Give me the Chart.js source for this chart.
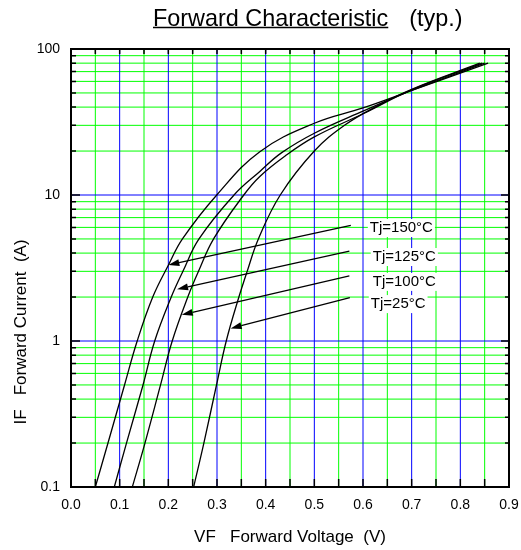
<!DOCTYPE html>
<html><head><meta charset="utf-8">
<script src="https://cdn.jsdelivr.net/npm/chart.js@4.4.0/dist/chart.umd.min.js"></script>
<style>html,body{margin:0;padding:0;background:#fff;}#wrap{width:521px;height:550px;}</style>
</head><body><div id="wrap"><canvas id="c" width="521" height="550"></canvas></div>
<script>
// ---- text ----
const chartTitle = "Forward Characteristic";
const chartTitleNote = "(typ.)";
const xAxisTitle = "VF   Forward Voltage  (V)";
const yAxisTitle = "IF   Forward Current  (A)";
const seriesNames = ["Tj=150°C", "Tj=125°C", "Tj=100°C", "Tj=25°C"];

// ---- series (VF in V, IF in A) ----
const vf150 = [0.050, 0.076, 0.110, 0.136, 0.168, 0.200, 0.229, 0.2995, 0.388, 0.500, 0.600, 0.700, 0.857];
const if150 = [0.1, 0.2, 0.5, 1, 2, 3.3, 5, 10, 19.8, 31, 39.5, 52, 80];
const vf125 = [0.089, 0.114, 0.148, 0.172, 0.206, 0.230, 0.263, 0.335, 0.388, 0.433, 0.500, 0.600, 0.700, 0.850];
const if125 = [0.1, 0.2, 0.5, 1, 2, 3, 5, 10, 14.5, 19.5, 26.5, 37.5, 52, 80];
const vf100 = [0.126, 0.152, 0.184, 0.208, 0.240, 0.262, 0.293, 0.355, 0.388, 0.440, 0.500, 0.600, 0.700, 0.845];
const if100 = [0.1, 0.2, 0.5, 1, 2, 3, 5, 10, 13.4, 18.5, 25, 36, 52.5, 80];
const vf25  = [0.252, 0.273, 0.299, 0.319, 0.345, 0.362, 0.385, 0.430, 0.500, 0.562, 0.625, 0.700, 0.840];
const if25  = [0.1, 0.2, 0.5, 1, 2, 3, 5, 10, 20, 30, 40, 53, 80];

// ---- ticks ----
const xTickValues = [0,0.05,0.1,0.15,0.2,0.25,0.3,0.35,0.4,0.45,0.5,0.55,0.6,0.65,0.7,0.75,0.8,0.85,0.9];
const xTickLabels = ["0.0","","0.1","","0.2","","0.3","","0.4","","0.5","","0.6","","0.7","","0.8","","0.9"];
const yTickValues = [0.1,0.2,0.3,0.4,0.5,0.6,0.7,0.8,0.9,1,2,3,4,5,6,7,8,9,10,20,30,40,50,60,70,80,90,100];
const yMajorValues = [0.1, 1, 10, 100];
const yMajorLabels = ["0.1", "1", "10", "100"];

// ---- annotation arrows and labels (data coordinates) ----
const arrowFromV = [0.575, 0.572, 0.572, 0.573];
const arrowFromI = [6.2, 4.13, 2.79, 1.98];
const arrowToV   = [0.200, 0.218, 0.2275, 0.328];
const arrowToI   = [3.32, 2.26, 1.51, 1.22];
const labelV     = [0.614, 0.620, 0.620, 0.616];
const labelI     = [5.94, 3.76, 2.54, 1.79];

const FONT = "'Liberation Sans', Arial, Helvetica, sans-serif";
const GREEN = '#00ff00', BLUE = '#0000ff';

function pts(v, i) { return v.map((x, k) => ({x: x, y: i[k]})); }
function isMajorX(v) { return Math.abs(Math.round(v * 10) - v * 10) < 1e-6; }
function isMajorY(v) { return yMajorValues.some(m => Math.abs(m - v) < 1e-9); }

const seriesData = [pts(vf150, if150), pts(vf125, if125), pts(vf100, if100), pts(vf25, if25)];

const extras = {
  id: 'extras',
  beforeDatasetsDraw(chart) {
    const ctx = chart.ctx, a = chart.chartArea, xs = chart.scales.x, ys = chart.scales.y;
    ctx.save();
    ctx.lineWidth = 1;
    [false, true].forEach(major => {
      xTickValues.forEach(v => {
        if (isMajorX(v) !== major) return;
        const px = xs.getPixelForValue(v);
        ctx.strokeStyle = major ? BLUE : GREEN;
        ctx.beginPath(); ctx.moveTo(px, a.top); ctx.lineTo(px, a.bottom); ctx.stroke();
      });
      yTickValues.forEach(v => {
        if (isMajorY(v) !== major) return;
        const py = ys.getPixelForValue(v);
        ctx.strokeStyle = major ? BLUE : GREEN;
        ctx.beginPath(); ctx.moveTo(a.left, py); ctx.lineTo(a.right, py); ctx.stroke();
      });
    });
    ctx.restore();
  },
  afterDatasetsDraw(chart) {
    const ctx = chart.ctx, xs = chart.scales.x, ys = chart.scales.y;
    ctx.save();
    for (let k = 0; k < arrowFromV.length; k++) {
      const x1 = xs.getPixelForValue(arrowFromV[k]), y1 = ys.getPixelForValue(arrowFromI[k]);
      const x2 = xs.getPixelForValue(arrowToV[k]), y2 = ys.getPixelForValue(arrowToI[k]);
      const ang = Math.atan2(y2 - y1, x2 - x1);
      const L = 11, W = 3.5;
      const bx = x2 - L * Math.cos(ang), by = y2 - L * Math.sin(ang);
      ctx.strokeStyle = '#000'; ctx.lineWidth = 1.3;
      ctx.beginPath(); ctx.moveTo(x1, y1); ctx.lineTo(bx, by); ctx.stroke();
      ctx.fillStyle = '#000';
      ctx.beginPath();
      ctx.moveTo(x2, y2);
      ctx.lineTo(bx + W * Math.sin(ang), by - W * Math.cos(ang));
      ctx.lineTo(bx - W * Math.sin(ang), by + W * Math.cos(ang));
      ctx.closePath(); ctx.fill();
    }
    ctx.font = '15px ' + FONT;
    ctx.textBaseline = 'middle'; ctx.textAlign = 'left';
    for (let k = 0; k < seriesNames.length; k++) {
      const x = xs.getPixelForValue(labelV[k]), y = ys.getPixelForValue(labelI[k]);
      const w = ctx.measureText(seriesNames[k]).width;
      ctx.fillStyle = '#fff';
      ctx.fillRect(x - 2, y - 9, w + 4, 18);
      ctx.fillStyle = '#000';
      ctx.fillText(seriesNames[k], x, y);
    }
    ctx.restore();
  },
  afterDraw(chart) {
    const ctx = chart.ctx, a = chart.chartArea, xs = chart.scales.x, ys = chart.scales.y;
    ctx.save();
    ctx.strokeStyle = '#000';
    ctx.lineWidth = 1.5;
    ctx.beginPath();
    xTickValues.forEach(v => {
      const px = xs.getPixelForValue(v);
      ctx.moveTo(px, a.bottom); ctx.lineTo(px, a.bottom - 8);
      ctx.moveTo(px, a.top); ctx.lineTo(px, a.top + 5);
    });
    yTickValues.forEach(v => {
      const py = ys.getPixelForValue(v);
      const maj = isMajorY(v);
      ctx.moveTo(a.left, py); ctx.lineTo(a.left + (maj ? 9 : 5), py);
      ctx.moveTo(a.right, py); ctx.lineTo(a.right - (maj ? 8 : 4), py);
    });
    ctx.stroke();
    ctx.lineWidth = 2;
    ctx.strokeRect(Math.round(a.left), Math.round(a.top), Math.round(a.right - a.left), Math.round(a.bottom - a.top));
    ctx.fillStyle = '#000';
    ctx.font = '23.4px ' + FONT;
    ctx.textBaseline = 'alphabetic'; ctx.textAlign = 'left';
    const tx = 153, ty = 25.5;
    ctx.fillText(chartTitle, tx, ty);
    const tw = ctx.measureText(chartTitle).width;
    ctx.lineWidth = 1.5;
    ctx.beginPath(); ctx.moveTo(tx, ty + 2); ctx.lineTo(tx + tw, ty + 2); ctx.stroke();
    ctx.fillText(chartTitleNote, tx + tw + 21, ty);
    ctx.font = '17px ' + FONT;
    ctx.textAlign = 'center';
    ctx.fillText(xAxisTitle, (a.left + a.right) / 2, 541.5);
    ctx.save();
    ctx.translate(21, 332);
    ctx.rotate(-Math.PI / 2);
    ctx.textBaseline = 'middle';
    ctx.fillText(yAxisTitle, 0, 0);
    ctx.restore();
    ctx.restore();
  }
};

new Chart(document.getElementById('c'), {
  type: 'scatter',
  data: {
    datasets: seriesNames.map((n, k) => ({
      label: n,
      data: seriesData[k],
      showLine: true,
      borderColor: '#000',
      borderWidth: 1.3,
      pointRadius: 0,
      pointHoverRadius: 0,
      tension: 0.4,
      fill: false
    }))
  },
  options: {
    responsive: false,
    animation: false,
    devicePixelRatio: 1,
    layout: { padding: { top: 49, right: 12, left: 0, bottom: 0 } },
    plugins: { legend: { display: false }, tooltip: { enabled: false }, title: { display: false } },
    scales: {
      x: {
        type: 'linear', min: 0, max: 0.9,
        afterBuildTicks: s => { s.ticks = xTickValues.map(v => ({value: v})); },
        afterFit: s => { s.height = 63; s.paddingLeft = 0; s.paddingRight = 0; },
        ticks: {
          autoSkip: false, maxRotation: 0, padding: 10,
          color: '#000', font: { family: FONT, size: 14 },
          callback: (v, idx) => xTickLabels[idx]
        },
        grid: { display: false, drawTicks: false },
        border: { display: false }
      },
      y: {
        type: 'logarithmic', min: 0.1, max: 100,
        afterBuildTicks: s => { s.ticks = yTickValues.map(v => ({value: v})); },
        afterFit: s => { s.width = 71; s.paddingTop = 0; s.paddingBottom = 0; },
        ticks: {
          autoSkip: false, padding: 11,
          color: '#000', font: { family: FONT, size: 14 },
          callback: v => { const k = yMajorValues.findIndex(m => Math.abs(m - v) < 1e-9); return k >= 0 ? yMajorLabels[k] : ''; }
        },
        grid: { display: false, drawTicks: false },
        border: { display: false }
      }
    }
  },
  plugins: [extras]
});
</script>
</body></html>
